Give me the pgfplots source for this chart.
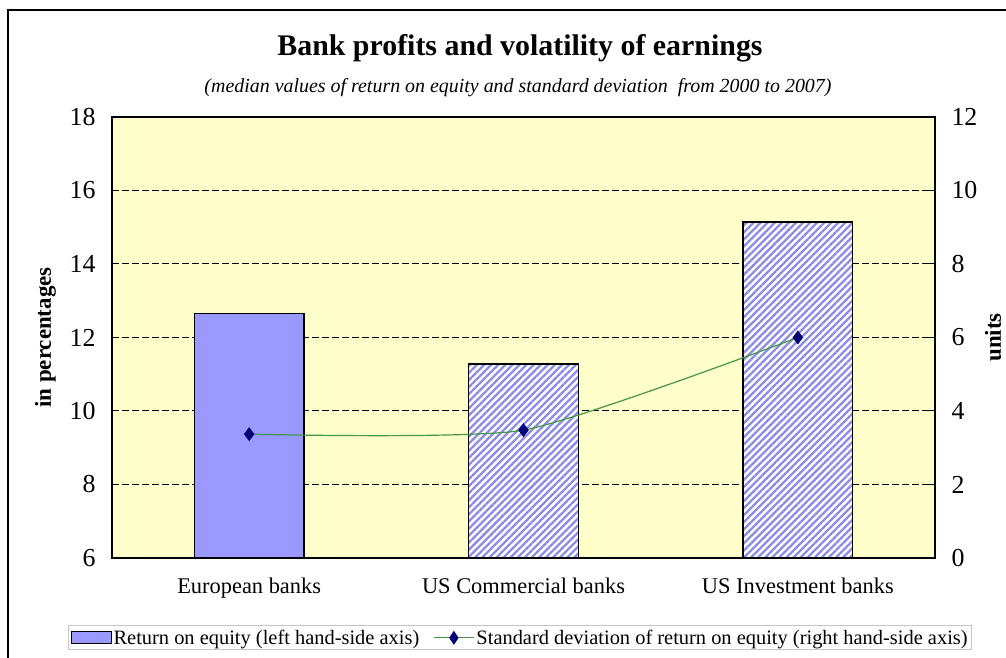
\documentclass[border=0pt]{standalone}
\usepackage{fontspec}
\setmainfont{Liberation Serif}
\usepackage{pgfplots}
\pgfplotsset{compat=1.18}
\usetikzlibrary{patterns.meta}
\definecolor{bgyellow}{RGB}{255,255,204}
\definecolor{barblue}{RGB}{153,153,255}
\definecolor{hatchblue}{RGB}{140,140,230}
\definecolor{linegreen}{RGB}{70,150,70}
\definecolor{navymark}{RGB}{0,0,120}
\begin{document}
\begin{tikzpicture}[x=1bp,y=1bp]
\useasboundingbox (0,0) rectangle (1006,658);
\draw[line width=1.5bp] (8,0) -- (8,648) -- (1006,648);
\node[font=\fontsize{30}{32}\selectfont\bfseries] at (520,610) {Bank profits and volatility of earnings};
\node[font=\fontsize{20}{22}\selectfont\itshape] at (518,570) {(median values of return on equity and standard deviation \ from 2000 to 2007)};
\begin{axis}[
  at={(112bp,100bp)}, anchor=south west,
  width=823bp, height=441bp, scale only axis,
  xmin=-0.5, xmax=2.5, ymin=6, ymax=18,
  axis background/.style={fill=bgyellow},
  axis line style={line width=1.2bp},
  ytick={6,8,...,18},
  xtick={0,1,2},
  xticklabels={European banks, US Commercial banks, US Investment banks},
  x tick style={draw=none},
  y tick style={line width=1bp, black},
  ytick pos=left,
  major tick length=6bp,
  ymajorgrids,
  major grid style={black, line width=1bp, dash pattern=on 7bp off 3bp},
  /pgf/number format/assume math mode=true,
  yticklabel style={font=\fontsize{26}{26}\selectfont, xshift=-13bp},
  xticklabel style={font=\fontsize{22.5}{22.5}\selectfont, yshift=-16bp},
  ylabel={\bfseries in percentages},
  ylabel style={font=\fontsize{23}{23}\selectfont, at={(axis description cs:-0.081,0.5)}, anchor=center},
]
\addplot[ybar, bar width=0.4, bar shift=0pt, fill=barblue, draw=black, line width=1.2bp] coordinates {(0,12.65)};
\addplot[ybar, bar width=0.4, bar shift=0pt, fill=white, draw=black, line width=1.2bp,
  postaction={pattern={Lines[angle=45,distance=5bp,line width=2.3bp]}, pattern color=hatchblue}] coordinates {(1,11.28)};
\addplot[ybar, bar width=0.4, bar shift=0pt, fill=white, draw=black, line width=1.2bp,
  postaction={pattern={Lines[angle=45,distance=5bp,line width=2.3bp]}, pattern color=hatchblue}] coordinates {(2,15.14)};
\end{axis}
\begin{axis}[
  at={(112bp,100bp)}, anchor=south west,
  width=823bp, height=441bp, scale only axis,
  xmin=-0.5, xmax=2.5, ymin=0, ymax=12,
  axis x line=none,
  axis y line*=right,
  axis line style={line width=1.2bp, -},
  ytick={0,2,...,12},
  y tick style={line width=1bp, black},
  major tick length=6bp,
  /pgf/number format/assume math mode=true,
  yticklabel style={font=\fontsize{26}{26}\selectfont, xshift=13bp},
  ylabel={\bfseries units},
  ylabel style={font=\fontsize{23}{23}\selectfont, at={(axis description cs:1.0705,0.5)}, anchor=center, rotate=0},
  legend columns=2,
  legend style={at={(axis description cs:0.496,-0.181)}, anchor=center, draw=gray!45, line width=0.8bp,
    font=\fontsize{20.5}{22}\selectfont, inner sep=2bp,
    /tikz/every even column/.append style={column sep=12bp}},
  legend cell align=left,
]
\addlegendimage{legend image code/.code={\draw[fill=barblue, draw=black, line width=0.8bp] (0bp,-6bp) rectangle (40bp,6bp);}}
\addlegendentry{Return on equity (left hand-side axis)}
\addplot[linegreen, line width=1.2bp, smooth, tension=0.35, mark=diamond*, mark size=6bp,
  mark options={navymark, fill=navymark, solid},
  legend image code/.code={\draw[linegreen, line width=1.2bp] (0bp,0bp) -- (40bp,0bp);
    \fill[navymark] (20bp,6bp) -- (24bp,0bp) -- (20bp,-6bp) -- (16bp,0bp) -- cycle;}] coordinates {(0,3.37) (1,3.48) (2,6.0)};
\addlegendentry{Standard deviation of return on equity (right hand-side axis)}
\end{axis}
\end{tikzpicture}
\end{document}
